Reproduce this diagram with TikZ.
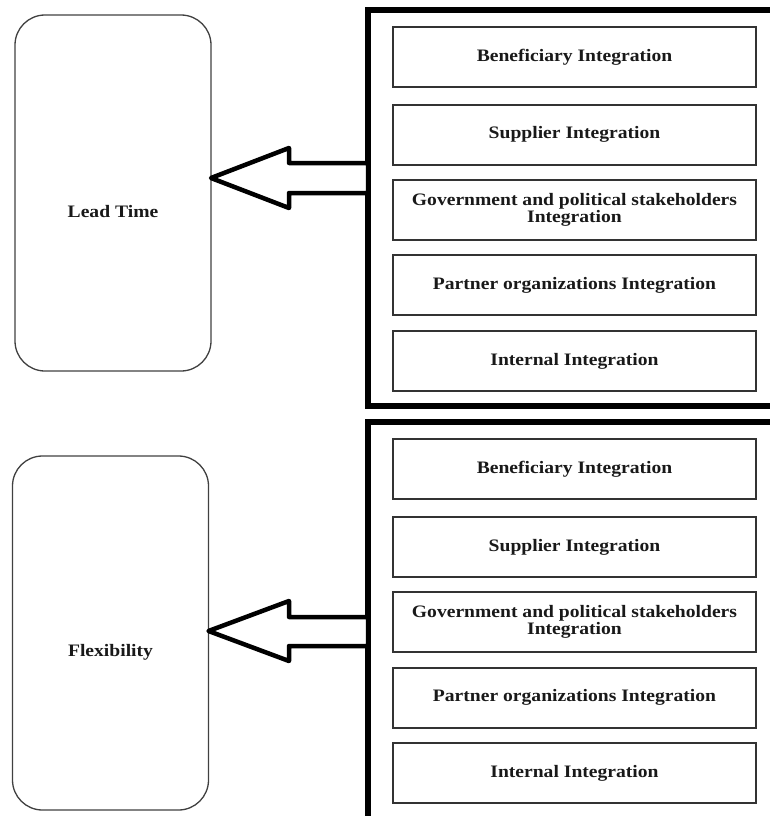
\documentclass[tikz,border=0pt]{standalone}
\usepackage{fontspec}
\setmainfont{Liberation Serif}
\newfontfamily\widefont[FakeStretch=1.12]{Liberation Serif}
\begin{document}
\begin{tikzpicture}[x=1pt,y=-1pt,
  goal/.style={draw=black!75, line width=1.3pt, rounded corners=30pt, minimum width=196pt, inner sep=0pt, outer sep=0pt},
  item/.style={draw=black!80, line width=2pt, minimum width=363pt, minimum height=60pt, inner sep=0pt, align=center, font=\widefont\fontsize{17.5}{17.7}\selectfont\bfseries, text=black!90},
  group/.style={draw=black, line width=6.5pt, inner sep=0pt, outer sep=0pt, minimum width=407pt},
  bigarrow/.style={draw=black, line width=4.5pt, line join=round, fill=white},
  lbl/.style={font=\widefont\fontsize{17.5}{20}\selectfont\bfseries, text=black!90}]
\useasboundingbox (0,0) rectangle (770,816);
\clip (0,0) rectangle (770,816);

% ---- top group ----
\node[goal, minimum height=356pt] (lt) at (113,193) {};
\node[lbl] (ltl) at (113,212) {Lead Time};
\node[group, minimum height=396pt] (ga) at (571.5,208) {};
\node[item] (a1) at (574.5,57) {Beneficiary Integration};
\node[item] (a2) at (574.5,134.5) {Supplier Integration};
\node[item] (a3) at (574.5,210) {Government and political stakeholders\\Integration};
\node[item] (a4) at (574.5,285) {Partner organizations Integration};
\node[item] (a5) at (574.5,361) {Internal Integration};
\draw[bigarrow] (lt.east |- 0,178) -- (289,148) -- (289,163) -- (ga.west |- 0,163)
  -- (ga.west |- 0,193) -- (289,193) -- (289,208) -- cycle;

% ---- bottom group ----
\node[goal, minimum height=354pt] (fl) at (110.5,633) {};
\node[lbl] (fll) at (110.5,652) {Flexibility};
\node[group, minimum height=408pt] (gb) at (571.5,626) {};
\node[item] (b1) at (574.5,469) {Beneficiary Integration};
\node[item] (b2) at (574.5,547) {Supplier Integration};
\node[item] (b3) at (574.5,622) {Government and political stakeholders\\Integration};
\node[item] (b4) at (574.5,697.5) {Partner organizations Integration};
\node[item] (b5) at (574.5,773) {Internal Integration};
\draw[bigarrow] (fl.east |- 0,631) -- (289,601) -- (289,617) -- (gb.west |- 0,617)
  -- (gb.west |- 0,646) -- (289,646) -- (289,661) -- cycle;
\end{tikzpicture}
\end{document}
